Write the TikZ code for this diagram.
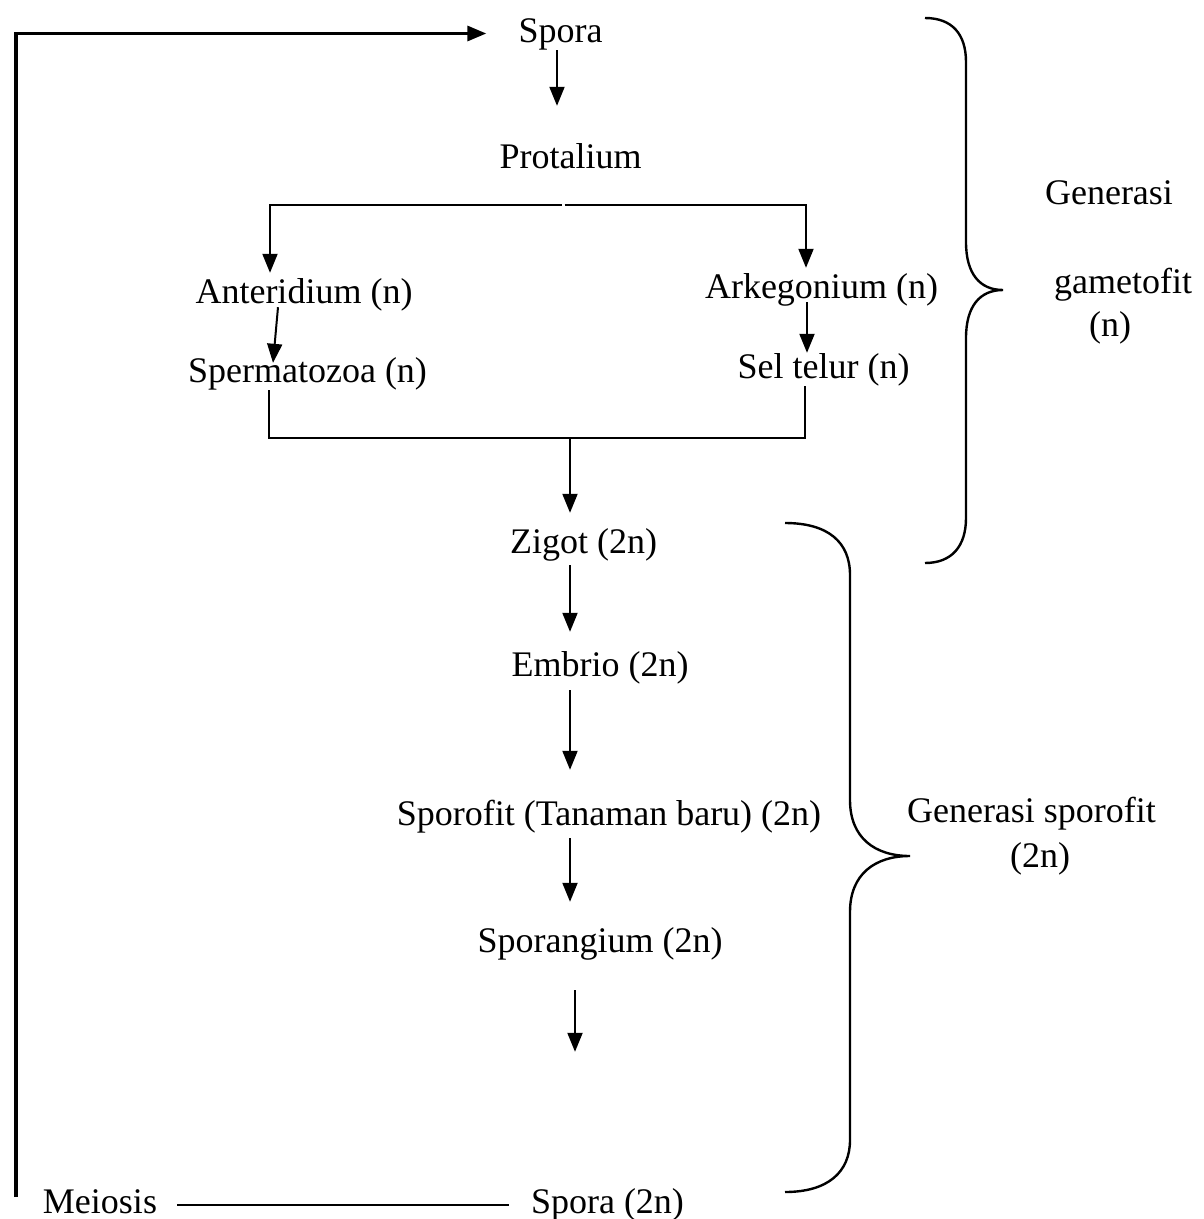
\documentclass[tikz,border=0pt]{standalone}
\usepackage{fontspec}
\setmainfont{Liberation Serif}
\usetikzlibrary{arrows.meta, positioning}

\begin{document}
\begin{tikzpicture}[
    x=1pt, y=-1pt,
    font=\fontsize{36}{44}\selectfont,
    >={Triangle[length=19pt, width=15pt]},
    txt/.style={inner sep=0pt, text height=25pt, text depth=8pt, anchor=base},
    arr/.style={->, line width=2pt},
    ln/.style={line width=2pt},
    loopln/.style={->, line width=3.2pt},
    brc/.style={line width=2.4pt}
  ]
  \useasboundingbox (0,0) rectangle (1203,1219);

  % --- Generasi gametofit ---
  \node[txt] (spora) at (560.5,42) {Spora};
  \node[txt] (protalium) at (570.5,168) {Protalium};
  \node[txt] (anteridium) at (304,303) {Anteridium (n)};
  \node[txt] (arkegonium) at (821.5,298) {Arkegonium (n)};
  \node[txt] (spermatozoa) at (307.5,382) {Spermatozoa (n)};
  \node[txt] (seltelur) at (823.5,378) {Sel telur (n)};

  % --- Generasi sporofit ---
  \node[txt] (zigot) at (583.5,553) {Zigot (2n)};
  \node[txt] (embrio) at (600,676) {Embrio (2n)};
  \node[txt] (sporofit) at (609,825) {Sporofit (Tanaman baru) (2n)};
  \node[txt] (sporangium) at (600,952) {Sporangium (2n)};
  \node[txt] (sporadua) at (607.5,1213) {Spora (2n)};
  \node[txt] (meiosis) at (100,1213) {Meiosis};

  % --- Keterangan kurung ---
  \node[txt] (gametofit) at (1123,293) {gametofit};
  \node[txt, above=55pt of gametofit, xshift=-14pt] (generasi) {Generasi};
  \node[txt, below=10pt of gametofit, xshift=-13pt] (haploid) {(n)};
  \node[txt] (gensporofit) at (1031.5,822) {Generasi sporofit};
  \node[txt, below=12pt of gensporofit, xshift=8.5pt] (diploid) {(2n)};

  \coordinate (fork) at (563,205);
  \coordinate (merge) at (570,438);
  \coordinate (loopstart) at (16,1197);

  % siklus kembali ke spora
  \draw[loopln, shorten >=32pt] (loopstart) |- (spora.west);
  \draw[ln, shorten <=22pt, shorten >=20pt] (sporadua.west) -- (meiosis.east);

  \draw[arr, shorten >=37pt] ([xshift=-3.5pt]spora.south) -- ([xshift=-3.5pt]spora.south |- protalium.north);
  \draw[arr, shorten <=1.5pt, shorten >=5pt] (fork) -| ([xshift=-34pt]anteridium.north);
  \draw[arr, shorten <=1.5pt, shorten >=5pt] (fork) -| ([xshift=-15.5pt]arkegonium.north);
  \draw[arr] ([xshift=-26pt,yshift=4pt]anteridium.south) -- ([xshift=-34.5pt,yshift=-6pt]spermatozoa.north);
  \draw[arr] ([xshift=-14.5pt,yshift=4pt]arkegonium.south) -- ([xshift=-16.5pt]seltelur.north);
  \draw[ln] ([xshift=-38.5pt]spermatozoa.south) |- (merge) -| ([xshift=-18.5pt]seltelur.south);

  \draw[arr, shorten >=15pt] (merge) -- (merge |- zigot.north);
  \draw[arr, shorten <=4pt, shorten >=19pt] (merge |- zigot.south) -- (merge |- embrio.north);
  \draw[arr, shorten <=6pt, shorten >=30pt] (merge |- embrio.south) -- (merge |- sporofit.north);
  \draw[arr, shorten <=5pt, shorten >=25pt] (merge |- sporofit.south) -- (merge |- sporangium.north);
  \draw[arr, shorten <=30pt, shorten >=136pt] ([xshift=-25pt]sporangium.south) -- ([xshift=-32.5pt]sporadua.north);

  % kurung kurawal
  \draw[brc] (925,18) .. controls (952,18) and (966,34) .. (966,62) -- (966,242)
    .. controls (966,274) and (980,290) .. (1003,290)
    .. controls (980,290) and (966,306) .. (966,338) -- (966,518)
    .. controls (966,546) and (952,563) .. (925,563);
  \draw[brc] (785,523) .. controls (828,523) and (850,542) .. (850,575) -- (850,800)
    .. controls (850,838) and (875,856) .. (910,856)
    .. controls (875,856) and (850,874) .. (850,912) -- (850,1140)
    .. controls (850,1172) and (828,1192) .. (785,1192);
\end{tikzpicture}
\end{document}
